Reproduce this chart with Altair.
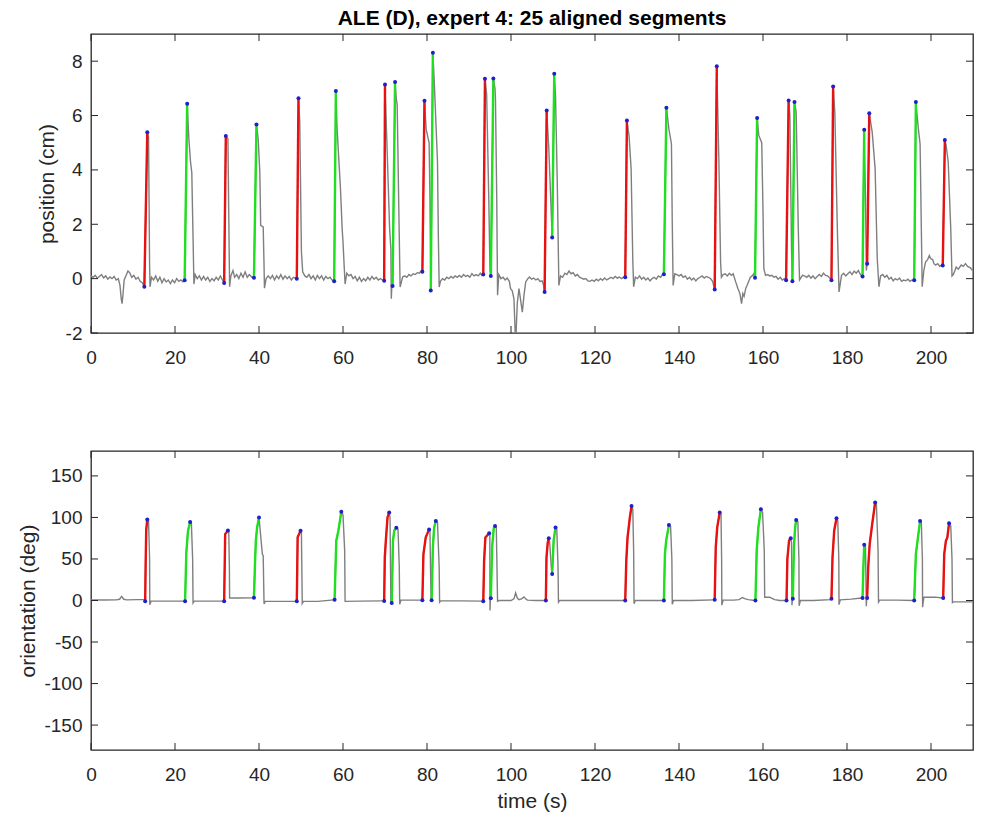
import altair as alt
import pandas as pd

# ------------------------------------------------------------------ data
seg_color = ["red", "green", "red", "green", "red", "green", "red", "green", "red",
             "green", "red", "green", "red", "green", "red", "green", "red", "green",
             "red", "green", "red", "green", "red", "green", "red"]

# position panel: segment start / end (time s, cm)
pos_seg_t0 = [12.7, 22.3, 31.7, 38.8, 49.0, 57.9, 69.8, 71.8, 78.9, 80.9, 93.4, 95.2, 108.0,
              109.8, 127.2, 136.4, 148.5, 158.1, 165.5, 167.0, 176.3, 183.7, 184.8, 196.0, 202.8]
pos_seg_v0 = [-0.30, -0.06, -0.16, 0.03, 0.00, -0.10, -0.08, -0.27, 0.25, -0.44, 0.15, 0.10, -0.49,
              1.51, 0.05, 0.16, -0.40, 0.03, -0.06, -0.10, -0.06, 0.08, 0.55, -0.06, 0.48]
pos_seg_t1 = [13.4, 22.9, 32.1, 39.4, 49.4, 58.3, 70.0, 72.4, 79.4, 81.4, 93.8, 95.8, 108.5,
              110.3, 127.6, 137.0, 149.0, 158.6, 166.1, 167.5, 176.7, 184.1, 185.3, 196.4, 203.3]
pos_seg_v1 = [5.39, 6.43, 5.25, 5.67, 6.64, 6.90, 7.14, 7.23, 6.54, 8.31, 7.35, 7.36, 6.19,
              7.54, 5.82, 6.29, 7.81, 5.91, 6.55, 6.50, 7.07, 5.48, 6.08, 6.50, 5.10]

# position panel: grey trace (pieces between the aligned segments)
pos_trace_t = [
    [0.0, 0.5, 1.0, 1.5, 2.0, 2.5, 3.0, 3.5, 4.0, 4.5, 5.0, 5.5, 6.0, 6.5, 6.9, 7.2, 7.4, 7.6, 7.9, 8.3, 8.8, 9.2, 9.7, 10.2, 10.7, 11.2, 11.7, 12.2],
    [13.7, 13.95, 14.05, 14.4, 14.9, 15.4, 15.9, 16.4, 16.9, 17.4, 17.9, 18.4, 18.9, 19.4, 19.9, 20.4, 20.9, 21.4, 21.9],
    [23.3, 23.7, 24.0, 24.3, 24.5, 24.8, 25.3, 25.8, 26.3, 26.8, 27.3, 27.8, 28.3, 28.8, 29.3, 29.8, 30.3, 30.8, 31.3],
    [32.6, 32.9, 33.0, 33.3, 33.8, 34.2, 34.7, 35.2, 35.7, 36.2, 36.7, 37.2, 37.7, 38.3],
    [39.8, 40.2, 40.4, 41.0, 41.2, 41.3, 41.7, 42.2, 42.7, 43.2, 43.7, 44.2, 44.7, 45.2, 45.7, 46.2, 46.7, 47.2, 47.7, 48.2, 48.7],
    [49.7, 50.1, 50.4, 50.9, 51.4, 51.9, 52.4, 52.9, 53.4, 53.9, 54.4, 54.9, 55.4, 55.9, 56.4, 56.9, 57.4],
    [58.6, 59.4, 59.8, 60.0, 60.3, 60.5, 60.9, 61.4, 61.9, 62.4, 62.9, 63.4, 63.9, 64.4, 64.9, 65.4, 65.9, 66.4, 66.9, 67.4, 67.9, 68.4, 68.9, 69.4],
    [70.6, 71.1, 71.4, 71.5, 71.65],
    [72.7, 72.9, 73.3, 73.5, 73.6, 74.2, 74.7, 75.2, 75.7, 76.2, 76.7, 77.2, 77.7, 78.2, 78.6],
    [79.8, 80.5, 80.7],
    [81.7, 82.5, 82.7, 82.9, 83.2, 83.7, 84.2, 84.7, 85.2, 85.7, 86.2, 86.7, 87.2, 87.7, 88.2, 88.7, 89.2, 89.7, 90.2, 90.7, 91.2, 91.7, 92.2, 92.7, 93.1],
    [94.2, 94.7, 95.0],
    [96.2, 96.3, 96.6, 96.8, 97.1, 97.6, 98.1, 98.6, 99.1, 99.6, 99.9, 100.3, 100.7, 101.1, 101.5, 101.9, 102.3, 102.7, 103.1, 103.5, 104.0, 104.4, 104.9, 105.4, 105.9, 106.4, 106.9, 107.4, 107.8],
    [109.0],
    [110.6, 111.0, 111.4, 111.8, 112.3, 112.8, 113.3, 113.8, 114.3, 114.8, 115.3, 115.8, 116.3, 116.8, 117.3, 117.8, 118.3, 118.8, 119.3, 119.8, 120.3, 120.8, 121.3, 121.8, 122.3, 122.8, 123.3, 123.8, 124.3, 124.8, 125.3, 125.8, 126.3, 126.8],
    [128.1, 128.6, 129.0, 129.2, 129.6, 130.1, 130.6, 131.1, 131.6, 132.1, 132.6, 133.1, 133.6, 134.1, 134.6, 135.1, 135.6, 136.1],
    [137.6, 138.2, 138.4, 138.6, 139.0, 139.5, 140.0, 140.5, 141.0, 141.5, 142.0, 142.5, 143.0, 143.5, 144.0, 144.5, 145.0, 145.5, 146.0, 146.5, 147.0, 147.5, 148.0],
    [149.5, 149.9, 150.1, 150.5, 151.0, 151.5, 152.0, 152.5, 152.9, 153.5, 154.0, 154.5, 154.9, 155.2, 155.5, 155.9, 156.2, 156.6, 157.0, 157.4, 157.8],
    [159.0, 159.7, 160.0, 160.2, 160.6, 161.1, 161.6, 162.1, 162.6, 163.1, 163.6, 164.1, 164.6, 165.1],
    [166.4, 166.8],
    [167.9, 168.4, 168.7, 169.4, 169.9, 170.4, 170.9, 171.4, 171.9, 172.4, 172.9, 173.4, 173.9, 174.4, 174.9, 175.4, 175.9],
    [177.1, 177.7, 178.1, 178.7, 179.2, 179.7, 180.2, 180.7, 181.2, 181.7, 182.2, 182.7, 183.2],
    [184.4, 184.6],
    [186.0, 186.7, 187.2, 187.6, 188.0, 188.5, 189.0, 189.5, 190.0, 190.5, 191.0, 191.5, 192.0, 192.5, 193.0, 193.5, 194.0, 194.5, 195.0, 195.5],
    [197.0, 197.4, 197.7, 197.9, 198.3, 198.7, 199.2, 199.6, 199.9, 200.4, 200.7, 201.1, 201.6, 202.1, 202.5],
    [203.6, 204.1, 204.7, 205.0, 205.3, 205.7, 206.0, 206.5, 207.2, 207.7, 208.2, 208.7, 209.4, 209.8],
]
pos_trace_v = [
    [0.10, 0.05, 0.12, 0.02, 0.08, 0.15, 0.03, 0.10, -0.02, 0.06, 0.00, 0.08, -0.05, 0.00, -0.25, -0.75, -0.92, -0.60, -0.05, 0.10, 0.28, 0.22, 0.05, 0.12, -0.02, 0.05, -0.10, -0.15],
    [5.20, 0.50, -0.30, 0.05, -0.05, 0.10, -0.10, 0.05, -0.15, 0.00, -0.12, -0.05, -0.18, -0.05, -0.15, 0.00, -0.10, -0.05, -0.12],
    [5.15, 4.29, 3.90, 1.50, -0.20, 0.15, 0.00, 0.10, -0.05, 0.08, -0.05, 0.05, -0.10, 0.00, -0.08, 0.05, -0.05, 0.10, -0.05],
    [5.15, 1.00, -0.30, 0.10, 0.30, 0.05, 0.15, 0.00, 0.20, 0.05, 0.25, 0.05, 0.15, 0.05],
    [5.15, 3.90, 1.96, 1.90, 0.50, -0.35, 0.00, 0.10, 0.00, 0.12, -0.05, 0.10, 0.00, 0.15, -0.02, 0.10, 0.00, 0.08, -0.05, 0.05, 0.02],
    [5.80, 1.00, 0.25, 0.10, 0.05, 0.15, 0.00, 0.10, -0.05, 0.12, 0.00, 0.10, -0.05, 0.08, 0.00, 0.05, -0.05],
    [5.50, 3.30, 1.84, 1.35, 0.40, -0.20, 0.20, 0.10, 0.15, 0.00, 0.08, -0.08, 0.05, -0.10, 0.00, -0.08, 0.05, -0.05, 0.08, -0.02, 0.05, -0.05, 0.00, -0.05],
    [4.29, 1.84, 1.10, -0.74, -0.20],
    [6.60, 6.40, 2.46, 0.60, -0.31, 0.06, 0.10, 0.05, 0.15, 0.10, 0.18, 0.15, 0.22, 0.20, 0.28],
    [5.50, 5.00, 3.00],
    [7.35, 4.29, 1.60, -0.31, -0.10, 0.00, -0.05, 0.05, 0.00, 0.08, 0.02, 0.10, 0.05, 0.12, 0.05, 0.15, 0.08, 0.12, 0.05, 0.18, 0.10, 0.15, 0.10, 0.20, 0.12],
    [6.80, 3.00, 0.30],
    [6.98, 6.60, 3.06, -0.61, 0.15, 0.00, 0.05, -0.05, 0.02, -0.10, -0.37, -0.45, -0.74, -2.40, -0.90, -0.37, -0.80, -1.23, -0.60, -0.12, 0.00, 0.06, -0.02, 0.02, -0.05, 0.00, -0.10, -0.08, -0.25],
    [4.80],
    [6.74, 3.68, -0.25, 0.10, 0.05, 0.20, 0.15, 0.28, 0.18, 0.22, 0.10, 0.15, 0.05, 0.02, -0.02, 0.00, -0.08, -0.10, -0.05, -0.10, -0.02, -0.08, 0.00, -0.06, 0.02, -0.05, 0.00, 0.05, 0.00, 0.08, 0.02, 0.06, 0.00, 0.05],
    [5.27, 4.04, 0.68, -0.30, 0.05, 0.00, 0.10, -0.02, 0.05, -0.05, 0.02, -0.08, 0.00, 0.05, -0.02, 0.10, 0.05, 0.15],
    [5.50, 4.96, 2.00, -0.25, 0.18, 0.15, 0.10, 0.15, 0.05, 0.10, -0.02, 0.05, -0.05, 0.02, -0.08, 0.00, 0.05, 0.10, 0.02, 0.08, 0.05, 0.00, -0.10],
    [4.29, 0.61, 0.05, 0.15, 0.18, 0.10, 0.20, 0.12, 0.18, -0.12, -0.35, -0.55, -0.92, -0.55, -0.65, -0.35, -0.25, -0.10, 0.05, 0.10, 0.18],
    [5.27, 5.00, 2.50, 0.37, 0.12, 0.15, 0.10, 0.12, 0.05, 0.08, -0.02, 0.05, -0.05, 0.00],
    [6.00, 1.00],
    [6.13, 1.84, -0.05, 0.12, 0.10, 0.05, 0.12, 0.02, 0.10, 0.00, 0.08, 0.15, 0.08, 0.20, 0.12, 0.10, 0.02],
    [6.13, 1.84, -0.49, 0.12, 0.20, 0.10, 0.18, 0.25, 0.15, 0.28, 0.20, 0.30, 0.15],
    [3.00, 0.30],
    [5.39, 4.04, 0.74, -0.30, 0.10, 0.15, 0.05, 0.12, -0.02, 0.05, -0.08, 0.00, -0.05, 0.02, -0.10, -0.05, -0.08, -0.02, -0.10, -0.05],
    [5.50, 4.96, 1.84, -0.30, 0.30, 0.61, 0.70, 0.85, 0.74, 0.70, 0.55, 0.50, 0.55, 0.45, 0.50],
    [4.90, 4.29, 1.84, 0.10, 0.15, 0.30, 0.43, 0.35, 0.50, 0.45, 0.55, 0.45, 0.40, 0.30],
]

# orientation panel: aligned segments (time s, deg)
ori_seg_t = [
    [12.9, 13.0, 13.15, 13.4], [22.4, 22.7, 23.1, 23.6], [31.7, 31.95, 32.6],
    [38.8, 39.05, 39.25, 39.55, 40.0], [49.0, 49.2, 49.9], [58.0, 58.4, 58.9, 59.6],
    [69.8, 69.95, 70.2, 70.6, 71.0], [71.6, 71.9, 72.2, 72.7], [78.9, 79.15, 79.7, 80.5],
    [81.1, 81.4, 81.7, 82.1], [93.4, 93.6, 93.9, 94.8], [95.2, 95.5, 95.9, 96.2],
    [108.3, 108.45, 108.75, 109.0], [109.8, 110.15, 110.6],
    [127.2, 127.45, 127.75, 128.3, 128.7], [136.4, 136.65, 136.95, 137.6],
    [148.5, 148.75, 149.1, 149.7], [158.2, 158.5, 158.9, 159.5], [165.6, 165.8, 166.2, 166.6],
    [167.1, 167.35, 167.65, 167.9], [176.3, 176.55, 176.95, 177.5], [183.7, 183.9, 184.1],
    [184.8, 185.05, 185.4, 186.0, 186.7], [196.0, 196.4, 196.8, 197.4],
    [202.9, 203.15, 203.55, 203.9, 204.3],
]
ori_seg_v = [
    [-1, 40, 85, 97.6], [-1, 58, 84, 94.4], [-1, 80, 84.4],
    [3.2, 45, 72, 88, 100], [-1, 76, 84], [0.8, 72, 84, 107],
    [-0.5, 52, 72, 100, 106], [-3, 72, 84, 87.5], [0.4, 56, 76, 85.6],
    [0.4, 64, 88, 95.6], [-0.8, 48, 76, 81], [2.8, 64, 87, 89.6],
    [0, 52, 70, 75], [32, 72, 88],
    [0, 48, 76, 100, 113.7], [0, 56, 72, 91],
    [0.8, 64, 88, 106], [0, 60, 88, 110], [0, 50, 72, 75],
    [2, 64, 88, 97], [2, 52, 84, 99], [3, 40, 67],
    [3, 40, 68, 92, 118], [0, 56, 72, 95.6],
    [3, 56, 72, 76, 93],
]

# orientation panel: grey trace (pieces between the aligned segments)
ori_trace_t = [
    [0, 3, 6, 6.8, 7.3, 7.8, 8.5, 11, 12.6],
    [13.7, 13.95, 14.0, 14.3, 18, 22.2],
    [23.9, 24.2, 24.3, 24.6, 28, 31.5],
    [32.8, 32.95, 33.0, 35, 38.5],
    [40.8, 41.0, 41.2, 41.5, 45, 48.8],
    [50.1, 50.3, 50.6, 54, 57.8],
    [60.0, 60.4, 60.5, 64, 69.6],
    [71.2, 71.4, 71.5],
    [73.1, 73.4, 73.5, 73.8, 76, 78.7],
    [80.7, 80.9, 81.0],
    [82.5, 82.9, 83.0, 83.3, 88, 93.2],
    [94.95, 95.0, 95.1],
    [96.5, 96.8, 97.2, 100, 100.7, 101.1, 101.5, 101.9, 102.5, 103.1, 103.5, 103.9, 106, 108.1],
    [109.2, 109.6, 109.75],
    [110.9, 111.2, 111.3, 111.6, 120, 127.0],
    [129.0, 129.2, 129.3, 129.6, 133, 136.2],
    [138.0, 138.3, 138.4, 138.7, 143, 148.3],
    [150.0, 150.15, 150.2, 150.5, 153, 154.3, 155.1, 155.8, 156.5, 158.0],
    [159.9, 160.3, 160.4, 161.6, 162.0, 162.8, 164.0, 165.4],
    [166.8, 166.9, 167.0],
    [168.3, 168.55, 168.6, 168.9, 172, 176.1],
    [177.8, 178.05, 178.1, 178.4, 181, 183.5],
    [184.4, 184.6, 184.7],
    [187.0, 187.4, 187.5, 187.8, 192, 195.8],
    [197.7, 197.95, 198.0, 198.3, 201, 202.7],
    [204.7, 205.0, 205.1, 205.4, 209.8],
]
ori_trace_v = [
    [0.8, 0.6, 0.8, 1.5, 5, 1.5, 0.8, 1.0, 1.0],
    [96, 50, -5, -0.8, -0.8, -0.8],
    [93, 50, -3, -0.8, -0.8, -0.8],
    [83, 40, 3, 3, 3.2],
    [56, 54, -4, -1, -1, -1],
    [82, -3.6, -1, -1, 0.8],
    [103, 60, -1, -0.8, -0.5],
    [100, -4, -3],
    [86, 40, -4.6, 0.4, 0.4, 0.4],
    [84, 20, 0.4],
    [94, 40, -2, -0.4, -0.4, -0.8],
    [80, -12, 2.8],
    [88, -0.8, 0, 0, 2, 9.2, 3, 1, 2, 4.4, 2, 0.4, 0, 0],
    [70, 40, 32],
    [86, 40, -2, 0, 0, 0],
    [110, 60, -4, 0, 0, 0],
    [89, 50, -4.4, 0, 0, 0.8],
    [104, 50, -5.6, 0.4, 0.4, 1, 3.6, 2, 1, 0],
    [106, 60, 4, 4, 3, 1, 0, 0],
    [70, -5.6, 1],
    [95, 50, -6.4, 0, 0, 1],
    [96, 50, -5, 0.8, 1.6, 3],
    [65, -7, 3],
    [116, 60, -2, 0.4, 0.4, 0],
    [94, 50, -8, 4, 4, 3],
    [90, 50, -2.4, -1.6, -1.6],
]

x_ticks = [0, 20, 40, 60, 80, 100, 120, 140, 160, 180, 200]
pos_ticks = [-2, 0, 2, 4, 6, 8]
ori_ticks = [-150, -100, -50, 0, 50, 100, 150]

# ------------------------------------------------------------------ frames
pos_seg_rows = []
for i in range(len(seg_color)):
    pos_seg_rows.append({"id": i, "k": 0, "t": pos_seg_t0[i], "v": pos_seg_v0[i], "c": seg_color[i]})
    pos_seg_rows.append({"id": i, "k": 1, "t": pos_seg_t1[i], "v": pos_seg_v1[i], "c": seg_color[i]})
pos_seg = pd.DataFrame(pos_seg_rows)
pos_gray = pd.concat([
    pd.DataFrame({"t": sum(pos_trace_t, []), "v": sum(pos_trace_v, [])}),
    pos_seg[["t", "v"]],
]).sort_values("t").reset_index(drop=True)
pos_dots = pos_seg[["t", "v"]]

ori_seg_rows = []
ori_dot_rows = []
for i in range(len(seg_color)):
    for k, (t, v) in enumerate(zip(ori_seg_t[i], ori_seg_v[i])):
        ori_seg_rows.append({"id": i, "k": k, "t": t, "v": v, "c": seg_color[i]})
    ori_dot_rows.append({"t": ori_seg_t[i][0], "v": ori_seg_v[i][0]})
    ori_dot_rows.append({"t": ori_seg_t[i][-1], "v": ori_seg_v[i][-1]})
ori_seg = pd.DataFrame(ori_seg_rows)
ori_dots = pd.DataFrame(ori_dot_rows)
ori_gray = pd.concat([
    pd.DataFrame({"t": sum(ori_trace_t, []), "v": sum(ori_trace_v, [])}),
    ori_seg[["t", "v"]],
]).sort_values("t").reset_index(drop=True)

# ------------------------------------------------------------------ styling
FONT = "Liberation Sans"
INK = "#262626"
GRAY = "#7f7f7f"
RED = "#e81010"
GREEN = "#1fe01f"
DOT = "#2020c8"
W, H = 882, 299
TICK = 7
LABEL_EXPR = "datum.value < 0 ? '-' + format(-datum.value, 'd') : format(datum.value, 'd')"


def label_axis(values, title, orient, **kw):
    args = dict(values=values, orient=orient, ticks=False, domain=False, grid=False, labelFlush=False,
                labelFont=FONT, labelFontSize=19, labelColor=INK, labelExpr=LABEL_EXPR,
                titleFont=FONT, titleFontSize=21, titleFontWeight="normal", titleColor=INK)
    args.update(kw)
    args["title"] = title if title else None
    return alt.Axis(**args)


def panel(gray, seg, dots, ydom, yvals, ytitle, xtitle, y_title_pad):
    xs = alt.Scale(domain=[0, 210], nice=False, zero=False)
    ys = alt.Scale(domain=ydom, nice=False, zero=False)
    xt = pd.DataFrame({"t": x_ticks})
    yt = pd.DataFrame({"v": yvals})

    g = alt.Chart(gray).mark_line(color=GRAY, strokeWidth=1.4, clip=True).encode(
        x=alt.X("t:Q", scale=xs, axis=label_axis(x_ticks, xtitle, "bottom", labelPadding=15, titlePadding=6)),
        y=alt.Y("v:Q", scale=ys, axis=label_axis(yvals, ytitle, "left", labelPadding=9, titlePadding=y_title_pad)),
        order="t:Q",
    )
    s = alt.Chart(seg).mark_line(strokeWidth=2.4, clip=True).encode(
        x=alt.X("t:Q", scale=xs, axis=None),
        y=alt.Y("v:Q", scale=ys, axis=None),
        color=alt.Color("c:N", scale=alt.Scale(domain=["red", "green"], range=[RED, GREEN]), legend=None),
        detail="id:N",
        order="k:Q",
    )
    d = alt.Chart(dots).mark_circle(size=16, color=DOT, opacity=1, clip=True).encode(
        x=alt.X("t:Q", scale=xs, axis=None),
        y=alt.Y("v:Q", scale=ys, axis=None),
    )
    # inward tick marks on all four sides (MATLAB box style)
    tick_bottom = alt.Chart(xt).mark_rule(color=INK, strokeWidth=1).encode(
        x=alt.X("t:Q", scale=xs, axis=None), y=alt.value(H), y2=alt.value(H - TICK))
    tick_top = alt.Chart(xt).mark_rule(color=INK, strokeWidth=1).encode(
        x=alt.X("t:Q", scale=xs, axis=None), y=alt.value(0), y2=alt.value(TICK))
    tick_left = alt.Chart(yt).mark_rule(color=INK, strokeWidth=1).encode(
        y=alt.Y("v:Q", scale=ys, axis=None), x=alt.value(0), x2=alt.value(TICK))
    tick_right = alt.Chart(yt).mark_rule(color=INK, strokeWidth=1).encode(
        y=alt.Y("v:Q", scale=ys, axis=None), x=alt.value(W), x2=alt.value(W - TICK))
    return alt.layer(g, s, d, tick_bottom, tick_top, tick_left, tick_right).resolve_axis(
        x="independent", y="independent").properties(width=W, height=H)


top = panel(pos_gray, pos_seg, pos_dots, [-2, 9], pos_ticks, "position (cm)", None, 8).properties(
    title=alt.TitleParams(text="ALE (D), expert 4: 25 aligned segments", font=FONT, fontSize=21,
                          fontWeight="bold", color="#000000", anchor="middle", offset=5)
)
bottom = panel(ori_gray, ori_seg, ori_dots, [-180, 180], ori_ticks, "orientation (deg)", "time (s)", 5)

chart = alt.vconcat(top, bottom, spacing=81).properties(
    padding={"left": 17, "top": 6, "right": 5, "bottom": 0},
    background="white",
).configure_view(stroke=INK, strokeWidth=1.3)

chart.save("out.html", embed_options={"renderer": "svg", "actions": False})
